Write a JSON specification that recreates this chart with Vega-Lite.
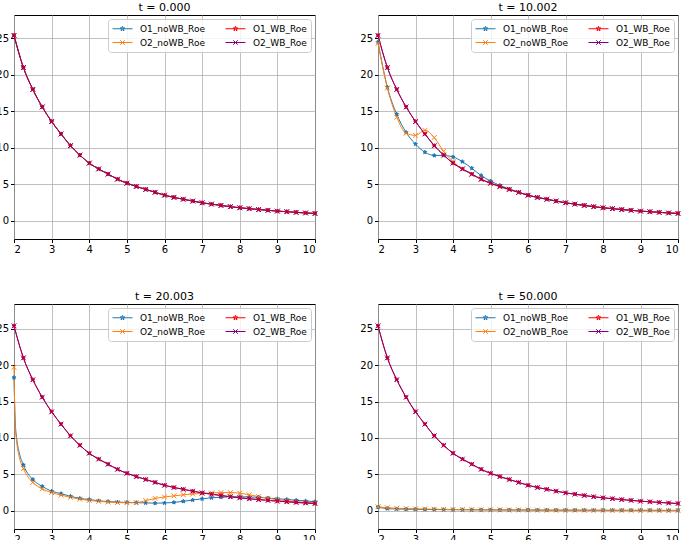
{
  "$schema": "https://vega.github.io/schema/vega-lite/v6.json",
  "padding": {"left": -5, "top": 1, "right": 0, "bottom": 0},
  "background": "white",
  "columns": 2,
  "spacing": {"row": 65, "column": 63},
  "bounds": "flush",
  "config": {
    "font": "DejaVu Sans",
    "view": {"stroke": "black", "strokeWidth": 1},
    "axis": {"labelFont": "DejaVu Sans", "labelFontSize": 10, "labelColor": "black", "tickColor": "black", "tickSize": 3.5, "labelPadding": 2, "domain": false, "gridColor": "#b0b0b0", "gridWidth": 0.8, "title": null},
    "title": {"font": "DejaVu Sans", "fontSize": 11, "fontWeight": 400, "color": "black", "offset": 2},
    "legend": {"title": null, "orient": "top-right", "offset": 4, "columns": 2, "symbolSize": 100, "labelOffset": 17, "columnPadding": 18, "rowPadding": 3, "padding": 4, "fillColor": "rgba(255,255,255,0.8)", "strokeColor": "#cccccc", "cornerRadius": 3, "labelFont": "DejaVu Sans", "labelFontSize": 9, "labelColor": "black", "symbolStrokeWidth": 1}
  },
  "resolve": {"legend": {"color": "independent"}},
  "data": {"values": [
    {"p":"a","x":2,"O1_noWB_Roe":25.4,"O2_noWB_Roe":25.4,"O1_WB_Roe":25.4,"O2_WB_Roe":25.4},
    {"p":"a","x":2.25,"O1_noWB_Roe":21.0,"O2_noWB_Roe":21.0,"O1_WB_Roe":21.0,"O2_WB_Roe":21.0},
    {"p":"a","x":2.5,"O1_noWB_Roe":18.0,"O2_noWB_Roe":18.0,"O1_WB_Roe":18.0,"O2_WB_Roe":18.0},
    {"p":"a","x":2.75,"O1_noWB_Roe":15.6,"O2_noWB_Roe":15.6,"O1_WB_Roe":15.6,"O2_WB_Roe":15.6},
    {"p":"a","x":3,"O1_noWB_Roe":13.6,"O2_noWB_Roe":13.6,"O1_WB_Roe":13.6,"O2_WB_Roe":13.6},
    {"p":"a","x":3.25,"O1_noWB_Roe":11.9,"O2_noWB_Roe":11.9,"O1_WB_Roe":11.9,"O2_WB_Roe":11.9},
    {"p":"a","x":3.5,"O1_noWB_Roe":10.3,"O2_noWB_Roe":10.3,"O1_WB_Roe":10.3,"O2_WB_Roe":10.3},
    {"p":"a","x":3.75,"O1_noWB_Roe":9.0,"O2_noWB_Roe":9.0,"O1_WB_Roe":9.0,"O2_WB_Roe":9.0},
    {"p":"a","x":4,"O1_noWB_Roe":7.9,"O2_noWB_Roe":7.9,"O1_WB_Roe":7.9,"O2_WB_Roe":7.9},
    {"p":"a","x":4.25,"O1_noWB_Roe":7.1,"O2_noWB_Roe":7.1,"O1_WB_Roe":7.1,"O2_WB_Roe":7.1},
    {"p":"a","x":4.5,"O1_noWB_Roe":6.4,"O2_noWB_Roe":6.4,"O1_WB_Roe":6.4,"O2_WB_Roe":6.4},
    {"p":"a","x":4.75,"O1_noWB_Roe":5.7,"O2_noWB_Roe":5.7,"O1_WB_Roe":5.7,"O2_WB_Roe":5.7},
    {"p":"a","x":5,"O1_noWB_Roe":5.15,"O2_noWB_Roe":5.15,"O1_WB_Roe":5.15,"O2_WB_Roe":5.15},
    {"p":"a","x":5.25,"O1_noWB_Roe":4.7,"O2_noWB_Roe":4.7,"O1_WB_Roe":4.7,"O2_WB_Roe":4.7},
    {"p":"a","x":5.5,"O1_noWB_Roe":4.3,"O2_noWB_Roe":4.3,"O1_WB_Roe":4.3,"O2_WB_Roe":4.3},
    {"p":"a","x":5.75,"O1_noWB_Roe":3.9,"O2_noWB_Roe":3.9,"O1_WB_Roe":3.9,"O2_WB_Roe":3.9},
    {"p":"a","x":6,"O1_noWB_Roe":3.5,"O2_noWB_Roe":3.5,"O1_WB_Roe":3.5,"O2_WB_Roe":3.5},
    {"p":"a","x":6.25,"O1_noWB_Roe":3.2,"O2_noWB_Roe":3.2,"O1_WB_Roe":3.2,"O2_WB_Roe":3.2},
    {"p":"a","x":6.5,"O1_noWB_Roe":2.95,"O2_noWB_Roe":2.95,"O1_WB_Roe":2.95,"O2_WB_Roe":2.95},
    {"p":"a","x":6.75,"O1_noWB_Roe":2.7,"O2_noWB_Roe":2.7,"O1_WB_Roe":2.7,"O2_WB_Roe":2.7},
    {"p":"a","x":7,"O1_noWB_Roe":2.46,"O2_noWB_Roe":2.46,"O1_WB_Roe":2.46,"O2_WB_Roe":2.46},
    {"p":"a","x":7.25,"O1_noWB_Roe":2.28,"O2_noWB_Roe":2.28,"O1_WB_Roe":2.28,"O2_WB_Roe":2.28},
    {"p":"a","x":7.5,"O1_noWB_Roe":2.1,"O2_noWB_Roe":2.1,"O1_WB_Roe":2.1,"O2_WB_Roe":2.1},
    {"p":"a","x":7.75,"O1_noWB_Roe":1.93,"O2_noWB_Roe":1.93,"O1_WB_Roe":1.93,"O2_WB_Roe":1.93},
    {"p":"a","x":8,"O1_noWB_Roe":1.78,"O2_noWB_Roe":1.78,"O1_WB_Roe":1.78,"O2_WB_Roe":1.78},
    {"p":"a","x":8.25,"O1_noWB_Roe":1.66,"O2_noWB_Roe":1.66,"O1_WB_Roe":1.66,"O2_WB_Roe":1.66},
    {"p":"a","x":8.5,"O1_noWB_Roe":1.54,"O2_noWB_Roe":1.54,"O1_WB_Roe":1.54,"O2_WB_Roe":1.54},
    {"p":"a","x":8.75,"O1_noWB_Roe":1.43,"O2_noWB_Roe":1.43,"O1_WB_Roe":1.43,"O2_WB_Roe":1.43},
    {"p":"a","x":9,"O1_noWB_Roe":1.32,"O2_noWB_Roe":1.32,"O1_WB_Roe":1.32,"O2_WB_Roe":1.32},
    {"p":"a","x":9.25,"O1_noWB_Roe":1.24,"O2_noWB_Roe":1.24,"O1_WB_Roe":1.24,"O2_WB_Roe":1.24},
    {"p":"a","x":9.5,"O1_noWB_Roe":1.15,"O2_noWB_Roe":1.15,"O1_WB_Roe":1.15,"O2_WB_Roe":1.15},
    {"p":"a","x":9.75,"O1_noWB_Roe":1.07,"O2_noWB_Roe":1.07,"O1_WB_Roe":1.07,"O2_WB_Roe":1.07},
    {"p":"a","x":10,"O1_noWB_Roe":1.0,"O2_noWB_Roe":1.0,"O1_WB_Roe":1.0,"O2_WB_Roe":1.0},

    {"p":"b","x":2,"O1_noWB_Roe":24.5,"O2_noWB_Roe":24.3,"O1_WB_Roe":25.4,"O2_WB_Roe":25.4},
    {"p":"b","x":2.25,"O1_noWB_Roe":18.3,"O2_noWB_Roe":18.2,"O1_WB_Roe":21.0,"O2_WB_Roe":21.0},
    {"p":"b","x":2.5,"O1_noWB_Roe":14.6,"O2_noWB_Roe":14.2,"O1_WB_Roe":18.0,"O2_WB_Roe":18.0},
    {"p":"b","x":2.75,"O1_noWB_Roe":12.1,"O2_noWB_Roe":12.0,"O1_WB_Roe":15.6,"O2_WB_Roe":15.6},
    {"p":"b","x":3,"O1_noWB_Roe":10.5,"O2_noWB_Roe":11.7,"O1_WB_Roe":13.6,"O2_WB_Roe":13.6},
    {"p":"b","x":3.25,"O1_noWB_Roe":9.4,"O2_noWB_Roe":12.4,"O1_WB_Roe":11.9,"O2_WB_Roe":11.9},
    {"p":"b","x":3.5,"O1_noWB_Roe":8.95,"O2_noWB_Roe":11.4,"O1_WB_Roe":10.3,"O2_WB_Roe":10.3},
    {"p":"b","x":3.75,"O1_noWB_Roe":8.95,"O2_noWB_Roe":9.5,"O1_WB_Roe":9.0,"O2_WB_Roe":9.0},
    {"p":"b","x":4,"O1_noWB_Roe":8.75,"O2_noWB_Roe":8.1,"O1_WB_Roe":7.9,"O2_WB_Roe":7.9},
    {"p":"b","x":4.25,"O1_noWB_Roe":8.1,"O2_noWB_Roe":7.1,"O1_WB_Roe":7.1,"O2_WB_Roe":7.1},
    {"p":"b","x":4.5,"O1_noWB_Roe":7.2,"O2_noWB_Roe":6.35,"O1_WB_Roe":6.4,"O2_WB_Roe":6.4},
    {"p":"b","x":4.75,"O1_noWB_Roe":6.2,"O2_noWB_Roe":5.65,"O1_WB_Roe":5.7,"O2_WB_Roe":5.7},
    {"p":"b","x":5,"O1_noWB_Roe":5.45,"O2_noWB_Roe":5.1,"O1_WB_Roe":5.15,"O2_WB_Roe":5.15},
    {"p":"b","x":5.25,"O1_noWB_Roe":4.85,"O2_noWB_Roe":4.65,"O1_WB_Roe":4.7,"O2_WB_Roe":4.7},
    {"p":"b","x":5.5,"O1_noWB_Roe":4.35,"O2_noWB_Roe":4.25,"O1_WB_Roe":4.3,"O2_WB_Roe":4.3},
    {"p":"b","x":5.75,"O1_noWB_Roe":3.92,"O2_noWB_Roe":3.88,"O1_WB_Roe":3.9,"O2_WB_Roe":3.9},
    {"p":"b","x":6,"O1_noWB_Roe":3.5,"O2_noWB_Roe":3.5,"O1_WB_Roe":3.5,"O2_WB_Roe":3.5},
    {"p":"b","x":6.25,"O1_noWB_Roe":3.2,"O2_noWB_Roe":3.2,"O1_WB_Roe":3.2,"O2_WB_Roe":3.2},
    {"p":"b","x":6.5,"O1_noWB_Roe":2.95,"O2_noWB_Roe":2.95,"O1_WB_Roe":2.95,"O2_WB_Roe":2.95},
    {"p":"b","x":6.75,"O1_noWB_Roe":2.7,"O2_noWB_Roe":2.7,"O1_WB_Roe":2.7,"O2_WB_Roe":2.7},
    {"p":"b","x":7,"O1_noWB_Roe":2.46,"O2_noWB_Roe":2.46,"O1_WB_Roe":2.46,"O2_WB_Roe":2.46},
    {"p":"b","x":7.25,"O1_noWB_Roe":2.28,"O2_noWB_Roe":2.28,"O1_WB_Roe":2.28,"O2_WB_Roe":2.28},
    {"p":"b","x":7.5,"O1_noWB_Roe":2.1,"O2_noWB_Roe":2.1,"O1_WB_Roe":2.1,"O2_WB_Roe":2.1},
    {"p":"b","x":7.75,"O1_noWB_Roe":1.93,"O2_noWB_Roe":1.93,"O1_WB_Roe":1.93,"O2_WB_Roe":1.93},
    {"p":"b","x":8,"O1_noWB_Roe":1.78,"O2_noWB_Roe":1.78,"O1_WB_Roe":1.78,"O2_WB_Roe":1.78},
    {"p":"b","x":8.25,"O1_noWB_Roe":1.66,"O2_noWB_Roe":1.66,"O1_WB_Roe":1.66,"O2_WB_Roe":1.66},
    {"p":"b","x":8.5,"O1_noWB_Roe":1.54,"O2_noWB_Roe":1.54,"O1_WB_Roe":1.54,"O2_WB_Roe":1.54},
    {"p":"b","x":8.75,"O1_noWB_Roe":1.43,"O2_noWB_Roe":1.43,"O1_WB_Roe":1.43,"O2_WB_Roe":1.43},
    {"p":"b","x":9,"O1_noWB_Roe":1.32,"O2_noWB_Roe":1.32,"O1_WB_Roe":1.32,"O2_WB_Roe":1.32},
    {"p":"b","x":9.25,"O1_noWB_Roe":1.24,"O2_noWB_Roe":1.24,"O1_WB_Roe":1.24,"O2_WB_Roe":1.24},
    {"p":"b","x":9.5,"O1_noWB_Roe":1.15,"O2_noWB_Roe":1.15,"O1_WB_Roe":1.15,"O2_WB_Roe":1.15},
    {"p":"b","x":9.75,"O1_noWB_Roe":1.07,"O2_noWB_Roe":1.07,"O1_WB_Roe":1.07,"O2_WB_Roe":1.07},
    {"p":"b","x":10,"O1_noWB_Roe":1.0,"O2_noWB_Roe":1.0,"O1_WB_Roe":1.0,"O2_WB_Roe":1.0},

    {"p":"c","x":2,"O1_noWB_Roe":18.3,"O2_noWB_Roe":19.7,"O1_WB_Roe":25.4,"O2_WB_Roe":25.4},
    {"p":"c","x":2.03,"O1_noWB_Roe":12.5,"O2_noWB_Roe":12.0},
    {"p":"c","x":2.07,"O1_noWB_Roe":10.0,"O2_noWB_Roe":9.5},
    {"p":"c","x":2.13,"O1_noWB_Roe":8.2,"O2_noWB_Roe":7.6},
    {"p":"c","x":2.25,"O1_noWB_Roe":6.3,"O2_noWB_Roe":5.8,"O1_WB_Roe":21.0,"O2_WB_Roe":21.0},
    {"p":"c","x":2.5,"O1_noWB_Roe":4.3,"O2_noWB_Roe":3.9,"O1_WB_Roe":18.0,"O2_WB_Roe":18.0},
    {"p":"c","x":2.75,"O1_noWB_Roe":3.35,"O2_noWB_Roe":3.0,"O1_WB_Roe":15.6,"O2_WB_Roe":15.6},
    {"p":"c","x":3,"O1_noWB_Roe":2.7,"O2_noWB_Roe":2.5,"O1_WB_Roe":13.6,"O2_WB_Roe":13.6},
    {"p":"c","x":3.25,"O1_noWB_Roe":2.35,"O2_noWB_Roe":2.15,"O1_WB_Roe":11.9,"O2_WB_Roe":11.9},
    {"p":"c","x":3.5,"O1_noWB_Roe":2.0,"O2_noWB_Roe":1.85,"O1_WB_Roe":10.3,"O2_WB_Roe":10.3},
    {"p":"c","x":3.75,"O1_noWB_Roe":1.7,"O2_noWB_Roe":1.6,"O1_WB_Roe":9.0,"O2_WB_Roe":9.0},
    {"p":"c","x":4,"O1_noWB_Roe":1.55,"O2_noWB_Roe":1.42,"O1_WB_Roe":7.9,"O2_WB_Roe":7.9},
    {"p":"c","x":4.25,"O1_noWB_Roe":1.37,"O2_noWB_Roe":1.3,"O1_WB_Roe":7.1,"O2_WB_Roe":7.1},
    {"p":"c","x":4.5,"O1_noWB_Roe":1.27,"O2_noWB_Roe":1.2,"O1_WB_Roe":6.4,"O2_WB_Roe":6.4},
    {"p":"c","x":4.75,"O1_noWB_Roe":1.2,"O2_noWB_Roe":1.13,"O1_WB_Roe":5.7,"O2_WB_Roe":5.7},
    {"p":"c","x":5,"O1_noWB_Roe":1.15,"O2_noWB_Roe":1.1,"O1_WB_Roe":5.15,"O2_WB_Roe":5.15},
    {"p":"c","x":5.25,"O1_noWB_Roe":1.12,"O2_noWB_Roe":1.12,"O1_WB_Roe":4.7,"O2_WB_Roe":4.7},
    {"p":"c","x":5.5,"O1_noWB_Roe":1.08,"O2_noWB_Roe":1.4,"O1_WB_Roe":4.3,"O2_WB_Roe":4.3},
    {"p":"c","x":5.75,"O1_noWB_Roe":1.05,"O2_noWB_Roe":1.7,"O1_WB_Roe":3.9,"O2_WB_Roe":3.9},
    {"p":"c","x":6,"O1_noWB_Roe":1.07,"O2_noWB_Roe":1.9,"O1_WB_Roe":3.5,"O2_WB_Roe":3.5},
    {"p":"c","x":6.25,"O1_noWB_Roe":1.15,"O2_noWB_Roe":2.05,"O1_WB_Roe":3.2,"O2_WB_Roe":3.2},
    {"p":"c","x":6.5,"O1_noWB_Roe":1.3,"O2_noWB_Roe":2.2,"O1_WB_Roe":2.95,"O2_WB_Roe":2.95},
    {"p":"c","x":6.75,"O1_noWB_Roe":1.48,"O2_noWB_Roe":2.3,"O1_WB_Roe":2.7,"O2_WB_Roe":2.7},
    {"p":"c","x":7,"O1_noWB_Roe":1.65,"O2_noWB_Roe":2.4,"O1_WB_Roe":2.46,"O2_WB_Roe":2.46},
    {"p":"c","x":7.25,"O1_noWB_Roe":1.78,"O2_noWB_Roe":2.45,"O1_WB_Roe":2.28,"O2_WB_Roe":2.28},
    {"p":"c","x":7.5,"O1_noWB_Roe":1.87,"O2_noWB_Roe":2.5,"O1_WB_Roe":2.1,"O2_WB_Roe":2.1},
    {"p":"c","x":7.75,"O1_noWB_Roe":1.92,"O2_noWB_Roe":2.5,"O1_WB_Roe":1.93,"O2_WB_Roe":1.93},
    {"p":"c","x":8,"O1_noWB_Roe":1.93,"O2_noWB_Roe":2.42,"O1_WB_Roe":1.78,"O2_WB_Roe":1.78},
    {"p":"c","x":8.25,"O1_noWB_Roe":1.9,"O2_noWB_Roe":2.2,"O1_WB_Roe":1.66,"O2_WB_Roe":1.66},
    {"p":"c","x":8.5,"O1_noWB_Roe":1.85,"O2_noWB_Roe":1.95,"O1_WB_Roe":1.54,"O2_WB_Roe":1.54},
    {"p":"c","x":8.75,"O1_noWB_Roe":1.75,"O2_noWB_Roe":1.72,"O1_WB_Roe":1.43,"O2_WB_Roe":1.43},
    {"p":"c","x":9,"O1_noWB_Roe":1.65,"O2_noWB_Roe":1.52,"O1_WB_Roe":1.32,"O2_WB_Roe":1.32},
    {"p":"c","x":9.25,"O1_noWB_Roe":1.55,"O2_noWB_Roe":1.38,"O1_WB_Roe":1.24,"O2_WB_Roe":1.24},
    {"p":"c","x":9.5,"O1_noWB_Roe":1.45,"O2_noWB_Roe":1.25,"O1_WB_Roe":1.15,"O2_WB_Roe":1.15},
    {"p":"c","x":9.75,"O1_noWB_Roe":1.35,"O2_noWB_Roe":1.15,"O1_WB_Roe":1.07,"O2_WB_Roe":1.07},
    {"p":"c","x":10,"O1_noWB_Roe":1.25,"O2_noWB_Roe":1.08,"O1_WB_Roe":1.0,"O2_WB_Roe":1.0},

    {"p":"d","x":2,"O1_noWB_Roe":0.5,"O2_noWB_Roe":0.55,"O1_WB_Roe":25.4,"O2_WB_Roe":25.4},
    {"p":"d","x":2.25,"O1_noWB_Roe":0.3,"O2_noWB_Roe":0.42,"O1_WB_Roe":21.0,"O2_WB_Roe":21.0},
    {"p":"d","x":2.5,"O1_noWB_Roe":0.25,"O2_noWB_Roe":0.35,"O1_WB_Roe":18.0,"O2_WB_Roe":18.0},
    {"p":"d","x":2.75,"O1_noWB_Roe":0.22,"O2_noWB_Roe":0.3,"O1_WB_Roe":15.6,"O2_WB_Roe":15.6},
    {"p":"d","x":3,"O1_noWB_Roe":0.2,"O2_noWB_Roe":0.27,"O1_WB_Roe":13.6,"O2_WB_Roe":13.6},
    {"p":"d","x":3.25,"O1_noWB_Roe":0.18,"O2_noWB_Roe":0.24,"O1_WB_Roe":11.9,"O2_WB_Roe":11.9},
    {"p":"d","x":3.5,"O1_noWB_Roe":0.17,"O2_noWB_Roe":0.22,"O1_WB_Roe":10.3,"O2_WB_Roe":10.3},
    {"p":"d","x":3.75,"O1_noWB_Roe":0.16,"O2_noWB_Roe":0.2,"O1_WB_Roe":9.0,"O2_WB_Roe":9.0},
    {"p":"d","x":4,"O1_noWB_Roe":0.15,"O2_noWB_Roe":0.18,"O1_WB_Roe":7.9,"O2_WB_Roe":7.9},
    {"p":"d","x":4.25,"O1_noWB_Roe":0.14,"O2_noWB_Roe":0.17,"O1_WB_Roe":7.1,"O2_WB_Roe":7.1},
    {"p":"d","x":4.5,"O1_noWB_Roe":0.13,"O2_noWB_Roe":0.16,"O1_WB_Roe":6.4,"O2_WB_Roe":6.4},
    {"p":"d","x":4.75,"O1_noWB_Roe":0.13,"O2_noWB_Roe":0.15,"O1_WB_Roe":5.7,"O2_WB_Roe":5.7},
    {"p":"d","x":5,"O1_noWB_Roe":0.12,"O2_noWB_Roe":0.14,"O1_WB_Roe":5.15,"O2_WB_Roe":5.15},
    {"p":"d","x":5.25,"O1_noWB_Roe":0.12,"O2_noWB_Roe":0.13,"O1_WB_Roe":4.7,"O2_WB_Roe":4.7},
    {"p":"d","x":5.5,"O1_noWB_Roe":0.11,"O2_noWB_Roe":0.12,"O1_WB_Roe":4.3,"O2_WB_Roe":4.3},
    {"p":"d","x":5.75,"O1_noWB_Roe":0.11,"O2_noWB_Roe":0.12,"O1_WB_Roe":3.9,"O2_WB_Roe":3.9},
    {"p":"d","x":6,"O1_noWB_Roe":0.1,"O2_noWB_Roe":0.11,"O1_WB_Roe":3.5,"O2_WB_Roe":3.5},
    {"p":"d","x":6.25,"O1_noWB_Roe":0.1,"O2_noWB_Roe":0.1,"O1_WB_Roe":3.2,"O2_WB_Roe":3.2},
    {"p":"d","x":6.5,"O1_noWB_Roe":0.09,"O2_noWB_Roe":0.1,"O1_WB_Roe":2.95,"O2_WB_Roe":2.95},
    {"p":"d","x":6.75,"O1_noWB_Roe":0.09,"O2_noWB_Roe":0.09,"O1_WB_Roe":2.7,"O2_WB_Roe":2.7},
    {"p":"d","x":7,"O1_noWB_Roe":0.08,"O2_noWB_Roe":0.09,"O1_WB_Roe":2.46,"O2_WB_Roe":2.46},
    {"p":"d","x":7.25,"O1_noWB_Roe":0.08,"O2_noWB_Roe":0.08,"O1_WB_Roe":2.28,"O2_WB_Roe":2.28},
    {"p":"d","x":7.5,"O1_noWB_Roe":0.08,"O2_noWB_Roe":0.08,"O1_WB_Roe":2.1,"O2_WB_Roe":2.1},
    {"p":"d","x":7.75,"O1_noWB_Roe":0.07,"O2_noWB_Roe":0.08,"O1_WB_Roe":1.93,"O2_WB_Roe":1.93},
    {"p":"d","x":8,"O1_noWB_Roe":0.07,"O2_noWB_Roe":0.07,"O1_WB_Roe":1.78,"O2_WB_Roe":1.78},
    {"p":"d","x":8.25,"O1_noWB_Roe":0.07,"O2_noWB_Roe":0.07,"O1_WB_Roe":1.66,"O2_WB_Roe":1.66},
    {"p":"d","x":8.5,"O1_noWB_Roe":0.06,"O2_noWB_Roe":0.07,"O1_WB_Roe":1.54,"O2_WB_Roe":1.54},
    {"p":"d","x":8.75,"O1_noWB_Roe":0.06,"O2_noWB_Roe":0.06,"O1_WB_Roe":1.43,"O2_WB_Roe":1.43},
    {"p":"d","x":9,"O1_noWB_Roe":0.06,"O2_noWB_Roe":0.06,"O1_WB_Roe":1.32,"O2_WB_Roe":1.32},
    {"p":"d","x":9.25,"O1_noWB_Roe":0.06,"O2_noWB_Roe":0.06,"O1_WB_Roe":1.24,"O2_WB_Roe":1.24},
    {"p":"d","x":9.5,"O1_noWB_Roe":0.05,"O2_noWB_Roe":0.06,"O1_WB_Roe":1.15,"O2_WB_Roe":1.15},
    {"p":"d","x":9.75,"O1_noWB_Roe":0.05,"O2_noWB_Roe":0.05,"O1_WB_Roe":1.07,"O2_WB_Roe":1.07},
    {"p":"d","x":10,"O1_noWB_Roe":0.05,"O2_noWB_Roe":0.05,"O1_WB_Roe":1.0,"O2_WB_Roe":1.0}
  ]},
  "transform": [
    {"fold": ["O1_noWB_Roe", "O2_noWB_Roe", "O1_WB_Roe", "O2_WB_Roe"], "as": ["series", "y"]},
    {"filter": "isValid(datum.y)"}
  ],
  "concat": [
    {
      "title": {"text": "t = 0.000", "fontWeight": 400},
      "width": 301, "height": 224,
      "transform": [{"filter": "datum.p == 'a'"}],
      "encoding": {
        "x": {"field": "x", "type": "quantitative", "scale": {"domain": [2, 10], "nice": false, "zero": false}, "axis": {"values": [2,3,4,5,6,7,8,9,10]}},
        "y": {"field": "y", "type": "quantitative", "scale": {"domain": [-2.5, 28.2], "nice": false, "zero": false}, "axis": {"values": [0,5,10,15,20,25]}}
      },
      "layer": [
        {"mark": {"type": "line", "interpolate": "monotone", "strokeWidth": 1},
         "encoding": {"color": {"field": "series", "type": "nominal", "scale": {"domain": ["O1_noWB_Roe","O2_noWB_Roe","O1_WB_Roe","O2_WB_Roe"], "range": ["#1f77b4","#ff7f0e","#ff0000","#800080"]},
           "legend": {"encode": {"symbols": {"update": {"shape": {"signal": "indexof(datum.value,'O1')==0 ? 'M-1,0L3,0M1,-0.5L1.118,-0.162L1.476,-0.155L1.19,0.062L1.294,0.405L1,0.2L0.706,0.405L0.81,0.062L0.524,-0.155L0.882,-0.162Z' : 'M-1,0L3,0M0.55,-0.45L1.45,0.45M0.55,0.45L1.45,-0.45'"}}}}}}}},
        {"mark": {"type": "point", "filled": true, "size": 16, "strokeWidth": 1, "opacity": 1},
         "transform": [{"filter": "datum.x * 4 == floor(datum.x * 4)"}],
         "encoding": {
           "shape": {"field": "series", "type": "nominal", "scale": {"domain": ["O1_noWB_Roe","O2_noWB_Roe","O1_WB_Roe","O2_WB_Roe"], "range": ["M0,-1L0.235,-0.324L0.951,-0.309L0.38,0.124L0.588,0.809L0,0.4L-0.588,0.809L-0.38,0.124L-0.951,-0.309L-0.235,-0.324Z","M-1.2,-1.2L1.2,1.2M-1.2,1.2L1.2,-1.2","M0,-1L0.235,-0.324L0.951,-0.309L0.38,0.124L0.588,0.809L0,0.4L-0.588,0.809L-0.38,0.124L-0.951,-0.309L-0.235,-0.324Z","M-1.2,-1.2L1.2,1.2M-1.2,1.2L1.2,-1.2"]}, "legend": null},
           "fill": {"field": "series", "type": "nominal", "scale": {"domain": ["O1_noWB_Roe","O2_noWB_Roe","O1_WB_Roe","O2_WB_Roe"], "range": ["#1f77b4","#ff7f0e","#ff0000","#800080"]}, "legend": null},
           "stroke": {"field": "series", "type": "nominal", "scale": {"domain": ["O1_noWB_Roe","O2_noWB_Roe","O1_WB_Roe","O2_WB_Roe"], "range": ["#1f77b4","#ff7f0e","#ff0000","#800080"]}, "legend": null}
         }}
      ]
    },
    {
      "title": {"text": "t = 10.002", "fontWeight": 400},
      "width": 300, "height": 224,
      "transform": [{"filter": "datum.p == 'b'"}],
      "encoding": {
        "x": {"field": "x", "type": "quantitative", "scale": {"domain": [2, 10], "nice": false, "zero": false}, "axis": {"values": [2,3,4,5,6,7,8,9,10]}},
        "y": {"field": "y", "type": "quantitative", "scale": {"domain": [-2.5, 28.2], "nice": false, "zero": false}, "axis": {"values": [0,5,10,15,20,25]}}
      },
      "layer": [
        {"mark": {"type": "line", "interpolate": "monotone", "strokeWidth": 1},
         "encoding": {"color": {"field": "series", "type": "nominal", "scale": {"domain": ["O1_noWB_Roe","O2_noWB_Roe","O1_WB_Roe","O2_WB_Roe"], "range": ["#1f77b4","#ff7f0e","#ff0000","#800080"]},
           "legend": {"encode": {"symbols": {"update": {"shape": {"signal": "indexof(datum.value,'O1')==0 ? 'M-1,0L3,0M1,-0.5L1.118,-0.162L1.476,-0.155L1.19,0.062L1.294,0.405L1,0.2L0.706,0.405L0.81,0.062L0.524,-0.155L0.882,-0.162Z' : 'M-1,0L3,0M0.55,-0.45L1.45,0.45M0.55,0.45L1.45,-0.45'"}}}}}}}},
        {"mark": {"type": "point", "filled": true, "size": 16, "strokeWidth": 1, "opacity": 1},
         "transform": [{"filter": "datum.x * 4 == floor(datum.x * 4)"}],
         "encoding": {
           "shape": {"field": "series", "type": "nominal", "scale": {"domain": ["O1_noWB_Roe","O2_noWB_Roe","O1_WB_Roe","O2_WB_Roe"], "range": ["M0,-1L0.235,-0.324L0.951,-0.309L0.38,0.124L0.588,0.809L0,0.4L-0.588,0.809L-0.38,0.124L-0.951,-0.309L-0.235,-0.324Z","M-1.2,-1.2L1.2,1.2M-1.2,1.2L1.2,-1.2","M0,-1L0.235,-0.324L0.951,-0.309L0.38,0.124L0.588,0.809L0,0.4L-0.588,0.809L-0.38,0.124L-0.951,-0.309L-0.235,-0.324Z","M-1.2,-1.2L1.2,1.2M-1.2,1.2L1.2,-1.2"]}, "legend": null},
           "fill": {"field": "series", "type": "nominal", "scale": {"domain": ["O1_noWB_Roe","O2_noWB_Roe","O1_WB_Roe","O2_WB_Roe"], "range": ["#1f77b4","#ff7f0e","#ff0000","#800080"]}, "legend": null},
           "stroke": {"field": "series", "type": "nominal", "scale": {"domain": ["O1_noWB_Roe","O2_noWB_Roe","O1_WB_Roe","O2_WB_Roe"], "range": ["#1f77b4","#ff7f0e","#ff0000","#800080"]}, "legend": null}
         }}
      ]
    },
    {
      "title": {"text": "t = 20.003", "fontWeight": 400},
      "width": 301, "height": 225,
      "transform": [{"filter": "datum.p == 'c'"}],
      "encoding": {
        "x": {"field": "x", "type": "quantitative", "scale": {"domain": [2, 10], "nice": false, "zero": false}, "axis": {"values": [2,3,4,5,6,7,8,9,10]}},
        "y": {"field": "y", "type": "quantitative", "scale": {"domain": [-2.5, 28.4], "nice": false, "zero": false}, "axis": {"values": [0,5,10,15,20,25]}}
      },
      "layer": [
        {"mark": {"type": "line", "interpolate": "monotone", "strokeWidth": 1},
         "encoding": {"color": {"field": "series", "type": "nominal", "scale": {"domain": ["O1_noWB_Roe","O2_noWB_Roe","O1_WB_Roe","O2_WB_Roe"], "range": ["#1f77b4","#ff7f0e","#ff0000","#800080"]},
           "legend": {"encode": {"symbols": {"update": {"shape": {"signal": "indexof(datum.value,'O1')==0 ? 'M-1,0L3,0M1,-0.5L1.118,-0.162L1.476,-0.155L1.19,0.062L1.294,0.405L1,0.2L0.706,0.405L0.81,0.062L0.524,-0.155L0.882,-0.162Z' : 'M-1,0L3,0M0.55,-0.45L1.45,0.45M0.55,0.45L1.45,-0.45'"}}}}}}}},
        {"mark": {"type": "point", "filled": true, "size": 16, "strokeWidth": 1, "opacity": 1},
         "transform": [{"filter": "datum.x * 4 == floor(datum.x * 4)"}],
         "encoding": {
           "shape": {"field": "series", "type": "nominal", "scale": {"domain": ["O1_noWB_Roe","O2_noWB_Roe","O1_WB_Roe","O2_WB_Roe"], "range": ["M0,-1L0.235,-0.324L0.951,-0.309L0.38,0.124L0.588,0.809L0,0.4L-0.588,0.809L-0.38,0.124L-0.951,-0.309L-0.235,-0.324Z","M-1.2,-1.2L1.2,1.2M-1.2,1.2L1.2,-1.2","M0,-1L0.235,-0.324L0.951,-0.309L0.38,0.124L0.588,0.809L0,0.4L-0.588,0.809L-0.38,0.124L-0.951,-0.309L-0.235,-0.324Z","M-1.2,-1.2L1.2,1.2M-1.2,1.2L1.2,-1.2"]}, "legend": null},
           "fill": {"field": "series", "type": "nominal", "scale": {"domain": ["O1_noWB_Roe","O2_noWB_Roe","O1_WB_Roe","O2_WB_Roe"], "range": ["#1f77b4","#ff7f0e","#ff0000","#800080"]}, "legend": null},
           "stroke": {"field": "series", "type": "nominal", "scale": {"domain": ["O1_noWB_Roe","O2_noWB_Roe","O1_WB_Roe","O2_WB_Roe"], "range": ["#1f77b4","#ff7f0e","#ff0000","#800080"]}, "legend": null}
         }}
      ]
    },
    {
      "title": {"text": "t = 50.000", "fontWeight": 400},
      "width": 300, "height": 225,
      "transform": [{"filter": "datum.p == 'd'"}],
      "encoding": {
        "x": {"field": "x", "type": "quantitative", "scale": {"domain": [2, 10], "nice": false, "zero": false}, "axis": {"values": [2,3,4,5,6,7,8,9,10]}},
        "y": {"field": "y", "type": "quantitative", "scale": {"domain": [-2.5, 28.4], "nice": false, "zero": false}, "axis": {"values": [0,5,10,15,20,25]}}
      },
      "layer": [
        {"mark": {"type": "line", "interpolate": "monotone", "strokeWidth": 1},
         "encoding": {"color": {"field": "series", "type": "nominal", "scale": {"domain": ["O1_noWB_Roe","O2_noWB_Roe","O1_WB_Roe","O2_WB_Roe"], "range": ["#1f77b4","#ff7f0e","#ff0000","#800080"]},
           "legend": {"encode": {"symbols": {"update": {"shape": {"signal": "indexof(datum.value,'O1')==0 ? 'M-1,0L3,0M1,-0.5L1.118,-0.162L1.476,-0.155L1.19,0.062L1.294,0.405L1,0.2L0.706,0.405L0.81,0.062L0.524,-0.155L0.882,-0.162Z' : 'M-1,0L3,0M0.55,-0.45L1.45,0.45M0.55,0.45L1.45,-0.45'"}}}}}}}},
        {"mark": {"type": "point", "filled": true, "size": 16, "strokeWidth": 1, "opacity": 1},
         "transform": [{"filter": "datum.x * 4 == floor(datum.x * 4)"}],
         "encoding": {
           "shape": {"field": "series", "type": "nominal", "scale": {"domain": ["O1_noWB_Roe","O2_noWB_Roe","O1_WB_Roe","O2_WB_Roe"], "range": ["M0,-1L0.235,-0.324L0.951,-0.309L0.38,0.124L0.588,0.809L0,0.4L-0.588,0.809L-0.38,0.124L-0.951,-0.309L-0.235,-0.324Z","M-1.2,-1.2L1.2,1.2M-1.2,1.2L1.2,-1.2","M0,-1L0.235,-0.324L0.951,-0.309L0.38,0.124L0.588,0.809L0,0.4L-0.588,0.809L-0.38,0.124L-0.951,-0.309L-0.235,-0.324Z","M-1.2,-1.2L1.2,1.2M-1.2,1.2L1.2,-1.2"]}, "legend": null},
           "fill": {"field": "series", "type": "nominal", "scale": {"domain": ["O1_noWB_Roe","O2_noWB_Roe","O1_WB_Roe","O2_WB_Roe"], "range": ["#1f77b4","#ff7f0e","#ff0000","#800080"]}, "legend": null},
           "stroke": {"field": "series", "type": "nominal", "scale": {"domain": ["O1_noWB_Roe","O2_noWB_Roe","O1_WB_Roe","O2_WB_Roe"], "range": ["#1f77b4","#ff7f0e","#ff0000","#800080"]}, "legend": null}
         }}
      ]
    }
  ]
}
